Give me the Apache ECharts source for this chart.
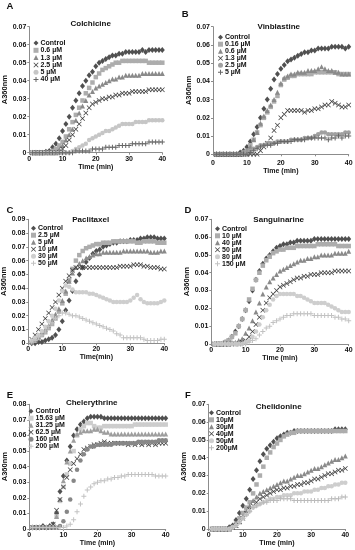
<!DOCTYPE html>
<html><head><meta charset="utf-8">
<script src="https://cdn.jsdelivr.net/npm/echarts@6/dist/echarts.min.js"></script>
<style>html,body{margin:0;padding:0;background:#fff}#c{width:355px;height:550px}</style>
</head><body><div id="c"></div>
<script>
// ---------- DATA ----------
const times = [1,2,3,4,5,6,7,8,9,10,11,12,13,14,15,16,17,18,19,20,21,22,23,24,25,26,27,28,29,30,31,32,33,34,35,36,37,38,39,40];
const panelLetters = ['A','B','C','D','E','F'];
const panelTitles = ['Colchicine','Vinblastine','Paclitaxel','Sanguinarine','Chelerythrine','Chelidonine'];
const xAxisNames = ['Time (min)','Time (min)','Time(min)','Time (min)','Time (min)','Time (min)'];
const yAxisName = 'A360nm';
const yMaxes = [0.07,0.07,0.09,0.07,0.08,0.07];
const xTickMin = 0, xTickMax = 40, xTickStep = 10;

const legendA = ['Control','0.6 µM','1.3 µM','2.5 µM','5 µM','40 µM'];
const legendB = ['Control','0.16 µM','0.6 µM','1.3 µM','2.5 µM','5 µM'];
const legendC = ['Control','2.5 µM','5 µM','10 µM','30 µM','50 µM'];
const legendD = ['Control','10 µM','40 µM','50 µM','80 µM','150 µM'];
const legendE = ['Control','15.63 µM','31.25 µM','62.5 µM','160 µM','200 µM'];
const legendF = ['Control','10µM','30µM','40µM','50µM','200µM'];

// A Colchicine
const aControl = [0,0,0,0,.0005,.001,.003,.005,.008,.012,.016,.020,.025,.029,.033,.037,.040,.043,.045,.048,.050,.051,.052,.053,.054,.054,.055,.055,.056,.056,.056,.056,.056,.057,.056,.057,.057,.057,.057,.057];
const a06 = [0,0,0,0,0,0,.001,.002,.004,.006,.009,.013,.017,.021,.025,.029,.033,.036,.039,.042,.044,.046,.047,.048,.049,.050,.050,.051,.051,.051,.051,.051,.051,.051,.051,.050,.050,.050,.050,.050];
const a13 = [0,0,0,0,0,0,0,0,.002,.004,.007,.010,.013,.018,.022,.026,.029,.032,.034,.036,.037,.038,.039,.040,.041,.041,.042,.042,.043,.043,.043,.043,.043,.044,.044,.044,.044,.044,.044,.044];
const a25 = [0,0,0,0,0,0,0,0,0,.002,.004,.007,.010,.013,.016,.019,.022,.025,.027,.028,.029,.030,.030,.031,.031,.032,.032,.033,.033,.033,.034,.034,.034,.034,.034,.035,.035,.035,.035,.035];
const a5 = [0,0,0,0,0,0,0,0,0,0,0,0,.001,.002,.003,.004,.005,.007,.008,.009,.010,.011,.012,.012,.013,.014,.015,.016,.016,.016,.016,.017,.017,.017,.017,.018,.018,.018,.018,.018];
const a40 = [0,0,0,0,0,0,0,0,0,0,0,0,0,.001,.001,.001,.001,.001,.002,.002,.002,.002,.003,.003,.003,.003,.004,.004,.004,.004,.005,.005,.005,.005,.005,.006,.006,.006,.006,.006];

// B Vinblastine
const bControl = [0,0,0,0,0,0,0,.001,.002,.004,.007,.011,.015,.020,.025,.030,.036,.041,.044,.047,.049,.051,.052,.053,.054,.055,.056,.056,.057,.057,.058,.058,.058,.058,.059,.059,.059,.059,.058,.059];
const b016 = [0,0,0,0,0,0,0,0,.001,.002,.005,.008,.012,.016,.020,.023,.026,.029,.032,.038,.041,.042,.043,.043,.044,.044,.044,.044,.044,.045,.045,.045,.045,.045,.045,.045,.044,.044,.044,.044];
const b06 = [0,0,0,0,0,0,0,0,.001,.002,.004,.008,.012,.017,.021,.024,.027,.030,.034,.039,.042,.043,.044,.044,.045,.045,.045,.046,.046,.046,.047,.048,.047,.046,.046,.045,.045,.044,.044,.044];
const b13 = [0,0,0,0,0,0,0,0,0,0,0,0,0,.002,.004,.006,.009,.013,.016,.020,.022,.024,.024,.024,.024,.024,.023,.024,.024,.025,.025,.026,.027,.027,.029,.028,.027,.026,.026,.027];
const b25 = [0,0,0,0,0,0,0,0,0,.001,.002,.003,.004,.005,.005,.006,.006,.006,.007,.007,.007,.007,.008,.008,.008,.008,.009,.009,.009,.010,.011,.012,.012,.011,.011,.011,.011,.011,.012,.012];
const b5 = [0,0,0,0,0,0,0,0,0,0,.001,.002,.003,.004,.005,.005,.005,.006,.006,.007,.007,.007,.007,.008,.008,.008,.008,.009,.009,.009,.009,.009,.009,.008,.009,.009,.010,.009,.010,.010];

// C Paclitaxel
const cControl = [0,0,.001,.001,.002,.003,.004,.006,.010,.016,.024,.031,.038,.045,.050,.055,.059,.062,.065,.067,.068,.070,.071,.072,.073,.073,.074,.074,.074,.075,.075,.075,.076,.076,.077,.077,.077,.076,.076,.076];
const c25 = [.001,.002,.004,.006,.008,.011,.014,.018,.023,.029,.036,.046,.054,.060,.064,.067,.069,.070,.071,.072,.072,.073,.073,.073,.074,.074,.074,.074,.074,.074,.074,.073,.073,.074,.074,.074,.074,.073,.073,.073];
const c5 = [.001,.003,.005,.008,.010,.013,.017,.021,.025,.031,.038,.045,.051,.055,.058,.060,.062,.063,.064,.065,.065,.066,.066,.066,.066,.066,.066,.067,.067,.067,.067,.067,.067,.067,.067,.066,.066,.066,.067,.067];
const c10 = [.003,.006,.010,.014,.018,.022,.026,.030,.035,.040,.045,.049,.053,.055,.055,.055,.055,.055,.055,.055,.055,.055,.055,.055,.055,.055,.056,.056,.056,.056,.057,.057,.057,.056,.056,.055,.055,.055,.054,.054];
const c30 = [.002,.004,.006,.009,.012,.016,.020,.025,.031,.038,.042,.041,.039,.037,.037,.037,.037,.036,.036,.035,.034,.033,.032,.031,.030,.030,.030,.030,.030,.031,.033,.035,.032,.030,.029,.029,.029,.029,.030,.031];
const c50 = [.001,.002,.004,.006,.009,.012,.015,.018,.020,.022,.022,.021,.020,.020,.019,.018,.017,.016,.015,.014,.013,.012,.011,.010,.009,.007,.006,.004,.004,.004,.004,.004,.004,.003,.002,.002,.002,.002,.003,.003];

// D Sanguinarine
const dControl = [0,0,0,.001,.002,.004,.007,.010,.014,.019,.024,.030,.036,.041,.045,.048,.050,.052,.054,.055,.056,.056,.057,.057,.058,.058,.058,.058,.058,.059,.059,.059,.059,.059,.059,.059,.059,.059,.059,.059];
const d10 = [0,0,0,.001,.002,.004,.006,.010,.014,.019,.025,.031,.036,.040,.044,.047,.049,.051,.052,.053,.053,.054,.054,.054,.055,.055,.055,.055,.055,.055,.056,.056,.056,.056,.056,.056,.055,.055,.055,.055];
const d40 = [0,0,0,0,0,.001,.001,.002,.003,.006,.009,.013,.018,.023,.028,.032,.035,.037,.039,.041,.042,.043,.044,.045,.046,.047,.047,.048,.048,.049,.049,.050,.050,.050,.050,.051,.051,.051,.051,.052];
const d50 = [0,0,0,0,0,0,0,0,.001,.002,.004,.007,.011,.015,.019,.023,.026,.028,.030,.032,.033,.034,.035,.036,.037,.037,.038,.038,.039,.039,.039,.040,.040,.040,.040,.041,.041,.041,.041,.041];
const d80 = [0,0,0,0,0,0,0,0,0,.001,.002,.004,.007,.011,.015,.019,.022,.025,.027,.028,.028,.028,.028,.028,.027,.027,.026,.025,.024,.023,.023,.023,.023,.022,.021,.020,.019,.018,.018,.018];
const d150 = [0,0,0,0,0,0,0,0,0,0,.001,.002,.003,.005,.007,.009,.010,.012,.013,.014,.015,.016,.016,.017,.017,.017,.017,.017,.017,.016,.016,.016,.016,.016,.016,.015,.015,.014,.014,.013];

// E Chelerythrine
const eControl = [.001,.001,.001,.002,.001,.002,.003,.010,.024,.034,.044,.053,.060,.064,.067,.069,.071,.072,.072,.072,.072,.071,.071,.071,.071,.071,.071,.071,.071,.071,.071,.071,.071,.071,.071,.071,.071,.071,.071,.071];
const e1563 = [.001,.001,.001,.001,.001,.001,.002,.008,.018,.027,.035,.042,.050,.060,.064,.066,.068,.068,.066,.065,.065,.066,.066,.066,.066,.066,.066,.066,.066,.066,.067,.067,.067,.067,.067,.067,.067,.067,.067,.067];
const e3125 = [.001,.001,.001,.001,.001,.001,.002,.008,.019,.031,.043,.050,.057,.061,.062,.063,.063,.063,.064,.064,.063,.062,.062,.061,.061,.061,.061,.061,.061,.061,.061,.061,.061,.061,.061,.061,.061,.061,.061,.061];
const e625 = [.001,.001,.001,.001,.001,.001,.003,.012,.019,.027,.033,.038,.042,.045,.048,.051,.052,.053,.054,.054,.055,.056,.055,.055,.055,.055,.055,.055,.054,.055,.054,.055,.054,.055,.054,.055,.054,.055,.055,.055];
const e160 = [.001,.001,.001,.001,.001,.001,.001,.001,.002,.005,.011,.019,.031,.038,.044,.048,.051,.053,.053,.054,.054,.054,.054,.054,.055,.055,.055,.055,.055,.055,.055,.056,.056,.056,.056,.056,.056,.057,.057,.057];
const e200 = [.001,.001,.001,.001,.001,.001,.001,.001,.001,.001,.002,.003,.006,.011,.016,.021,.025,.027,.029,.030,.031,.031,.032,.032,.033,.033,.034,.034,.035,.035,.035,.035,.035,.035,.035,.035,.034,.034,.034,.034];

// F Chelidonine
const fControl = [0,0,0,0,0,.001,.002,.005,.009,.013,.017,.022,.028,.033,.038,.042,.045,.047,.049,.051,.052,.053,.054,.054,.055,.055,.055,.055,.055,.055,.055,.055,.055,.055,.055,.055,.056,.056,.056,.056];
const f10 = [0,0,0,0,0,0,.001,.003,.006,.009,.012,.015,.020,.025,.030,.035,.040,.043,.046,.048,.050,.052,.053,.054,.054,.055,.055,.055,.055,.055,.055,.055,.055,.055,.055,.055,.055,.055,.055,.055];
const f30 = [0,0,0,0,0,0,.001,.002,.004,.007,.010,.013,.016,.018,.020,.021,.022,.023,.024,.025,.026,.027,.027,.028,.029,.030,.030,.031,.032,.033,.034,.034,.035,.036,.037,.038,.039,.039,.040,.041];
const f40 = [0,0,0,0,0,0,.001,.002,.004,.006,.009,.011,.013,.015,.017,.018,.019,.020,.021,.022,.022,.023,.023,.024,.024,.025,.025,.026,.026,.027,.028,.028,.029,.030,.031,.031,.032,.033,.033,.034];
const f50 = [0,0,0,0,0,0,.001,.002,.004,.006,.008,.010,.012,.013,.014,.015,.016,.017,.017,.018,.018,.019,.019,.019,.020,.020,.020,.021,.021,.021,.022,.022,.023,.023,.024,.024,.025,.025,.026,.026];
const f200 = [0,0,0,0,0,0,.001,.002,.004,.006,.008,.010,.012,.013,.014,.015,.015,.016,.016,.016,.017,.017,.017,.017,.016,.016,.016,.016,.016,.016,.016,.016,.016,.016,.016,.017,.017,.017,.018,.018];

const panelSeries = [
  [aControl,a06,a13,a25,a5,a40],
  [bControl,b016,b06,b13,b25,b5],
  [cControl,c25,c5,c10,c30,c50],
  [dControl,d10,d40,d50,d80,d150],
  [eControl,e1563,e3125,e625,e160,e200],
  [fControl,f10,f30,f40,f50,f200]
];
const panelLegends = [legendA,legendB,legendC,legendD,legendE,legendF];

// ---------- STYLE / LAYOUT ----------
const FONT = 'Liberation Sans, Arial, sans-serif';
const TXT = '#111';
const AX = '#8c8c8c';
const X_PATH = 'path://M0,1L1,0L5,4L9,0L10,1L6,5L10,9L9,10L5,6L1,10L0,9L4,5Z';
const PLUS_PATH = 'path://M4,0H6V4H10V6H6V10H4V6H0V4H4Z';
const symbols = ['diamond','rect','triangle',X_PATH,'circle',PLUS_PATH];
const symbolSizes = [[5,6],4.5,5,5,4.5,5];
const panelColors = [
  ['#505050','#adadad','#8a8a8a','#3a3a3a','#c6c6c6','#666666'],
  ['#505050','#adadad','#8a8a8a','#3a3a3a','#a0a0a0','#666666'],
  ['#505050','#adadad','#8a8a8a','#3a3a3a','#cecece','#c2c2c2'],
  ['#505050','#adadad','#8a8a8a','#3a3a3a','#cecece','#c2c2c2'],
  ['#505050','#cdcdcd','#9e9e9e','#3a3a3a','#878787','#c2c2c2'],
  ['#505050','#adadad','#8a8a8a','#3a3a3a','#cecece','#bababa']
];
const grids = [
  {left:29.3, top:26.7, width:133, height:126},
  {left:213, top:26.7, width:135.7, height:127.6},
  {left:28.3, top:219.3, width:136, height:124},
  {left:211.3, top:219.3, width:137.4, height:124.7},
  {left:29.3, top:404.3, width:136.4, height:124.7},
  {left:208.7, top:404.3, width:136.6, height:124.7}
];
const legendPos = [
  {left:33.5, top:39.5, lh:7, gap:0.3},
  {left:218, top:33.7, lh:6, gap:0},
  {left:31, top:224.7, lh:6.8, gap:0},
  {left:215, top:225.3, lh:6, gap:0},
  {left:28.5, top:407.7, lh:6.5, gap:0},
  {left:209, top:409.3, lh:6, gap:0}
];
const xLab = [{m:3,g:9},{m:5,g:11},{m:2,g:8},{m:3,g:9},{m:3,g:8.5},{m:3,g:8.5}];
const yNameGap = [19,19.5,18.5,16,20,20];
const letterPos = [[10,6.7],[185.3,14],[10,210],[188,210],[10,395],[188,395]];
const titlePos = [[90.7,24],[278.7,26.7],[90.7,220],[278.7,220],[91.7,402.7],[278.7,406.7]];

const option = {
  animation:false,
  backgroundColor:'#fff',
  grid: grids.map(g => Object.assign({containLabel:false, outerBoundsMode:'none'}, g)),
  xAxis: grids.map((g,i) => ({
    gridIndex:i, type:'value', min:xTickMin, max:xTickMax, interval:xTickStep,
    axisLine:{show:true, onZero:false, lineStyle:{color:AX, width:1}},
    axisTick:{show:true, length:2, lineStyle:{color:AX}},
    axisLabel:{show:true, margin:xLab[i].m, fontSize:7, fontWeight:'bold', color:TXT, fontFamily:FONT, hideOverlap:false},
    splitLine:{show:false},
    name:xAxisNames[i], nameLocation:'middle', nameGap:xLab[i].g,
    nameTextStyle:{fontSize:7, fontWeight:'bold', color:TXT, fontFamily:FONT}
  })),
  yAxis: grids.map((g,i) => ({
    gridIndex:i, type:'value', min:0, max:yMaxes[i], interval:0.01,
    axisLine:{show:true, onZero:false, lineStyle:{color:AX, width:1}},
    axisTick:{show:true, length:2, lineStyle:{color:AX}},
    axisLabel:{show:true, margin:3, fontSize:7, fontWeight:'bold', color:TXT, fontFamily:FONT,
      formatter: v => v === 0 ? '0' : v.toFixed(2)},
    splitLine:{show:false},
    name:yAxisName, nameLocation:'middle', nameRotate:90, nameGap:yNameGap[i],
    nameTextStyle:{fontSize:7.5, fontWeight:'bold', color:TXT, fontFamily:FONT}
  })),
  legend: legendPos.map((p,i) => ({
    orient:'vertical', left:p.left, top:p.top, padding:0, itemGap:p.gap,
    itemWidth:5, itemHeight:5, selectedMode:false,
    data: panelLegends[i].map(n => panelLetters[i] + '|' + n),
    formatter: name => name.split('|')[1],
    textStyle:{fontSize:7, fontWeight:'bold', color:TXT, fontFamily:FONT, lineHeight:p.lh, padding:[0,0,0,-3]}
  })),
  graphic: [].concat(
    letterPos.map((p,i) => ({type:'text', x:p[0], y:p[1], silent:true,
      style:{text:panelLetters[i], font:'bold 9.5px ' + FONT, fill:TXT, textAlign:'center', textVerticalAlign:'middle'}})),
    titlePos.map((p,i) => ({type:'text', x:p[0], y:p[1], silent:true,
      style:{text:panelTitles[i], font:'bold 8px ' + FONT, fill:TXT, textAlign:'center', textVerticalAlign:'middle'}}))
  ),
  series: []
};

panelSeries.forEach((list, i) => {
  list.forEach((vals, k) => {
    option.series.push({
      type:'scatter', name: panelLetters[i] + '|' + panelLegends[i][k],
      xAxisIndex:i, yAxisIndex:i,
      data: times.map((t, j) => [t, vals[j]]),
      symbol: symbols[k], symbolSize: symbolSizes[k],
      itemStyle:{color: panelColors[i][k], opacity:1},
      silent:true, z: 2 + k
    });
  });
});

const chart = echarts.init(document.getElementById('c'), null, {renderer:'canvas'});
chart.setOption(option);
</script>
</body></html>
